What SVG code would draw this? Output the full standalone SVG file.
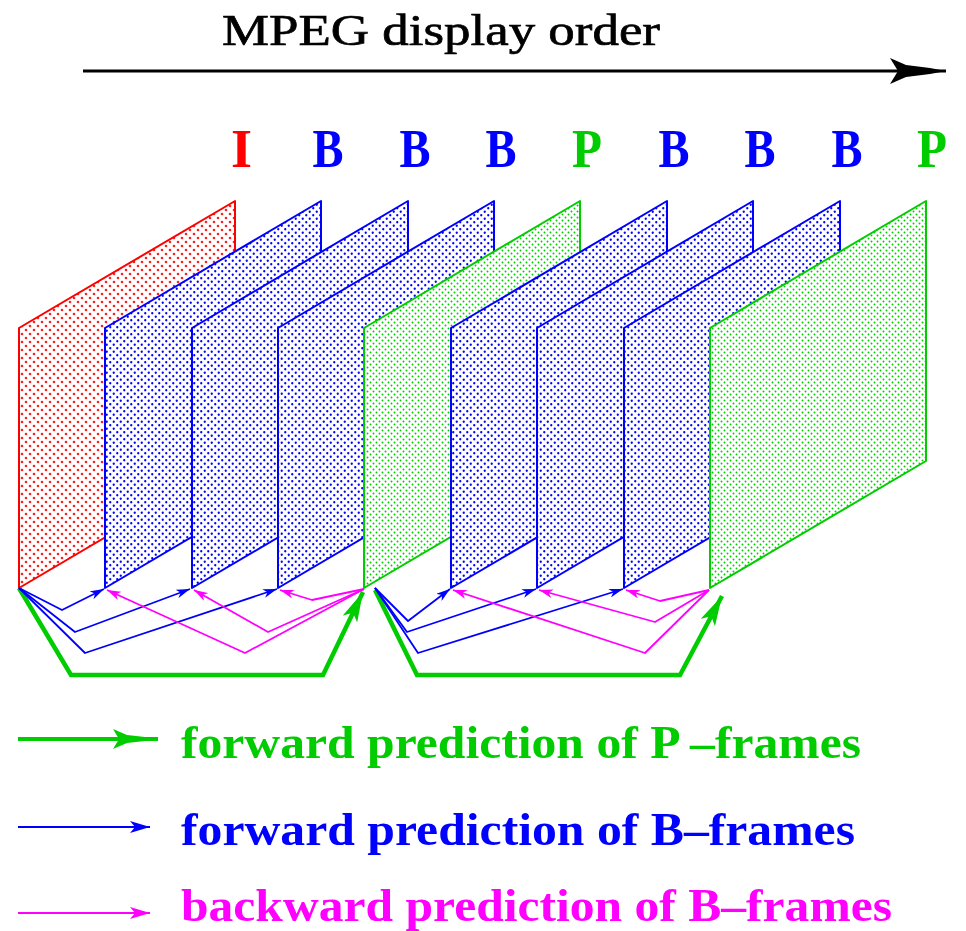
<svg xmlns="http://www.w3.org/2000/svg" width="966" height="931" viewBox="0 0 966 931">
  <style>
    .title { font-family: "Liberation Serif", "Times New Roman", serif; font-size: 45px; fill: #000; stroke: #000; stroke-width: 0.7; }
    .lbl { font-family: "Liberation Serif", "Times New Roman", serif; font-size: 54px; font-weight: bold; text-anchor: middle; }
    .leg { font-family: "Liberation Serif", "Times New Roman", serif; font-size: 47px; font-weight: bold; }
    .red { fill: #ff0000; }
    .blue { fill: #0000ff; }
    .green { fill: #00cc00; }
    .mag { fill: #ff00ff; }
    .frame { stroke-width: 2; stroke-linejoin: round; }
    .f-red { stroke: #ff0000; }
    .f-blue { stroke: #0000ff; }
    .f-green { stroke: #00cc00; }
    .c-blue { fill: none; stroke: #0000ff; stroke-width: 1.8; stroke-linejoin: round; }
    .c-mag { fill: none; stroke: #ff00ff; stroke-width: 1.8; stroke-linejoin: round; }
    .c-green { fill: none; stroke: #00cc00; stroke-width: 4.5; stroke-linejoin: miter; }
  </style>
  <defs>
    <pattern id="dots-red" patternUnits="userSpaceOnUse" width="8" height="8">
      <rect width="8" height="8" fill="#fff"/>
      <circle cx="2" cy="2" r="1.3" fill="#ff2020"/>
      <circle cx="6" cy="6" r="1.3" fill="#ff2020"/>
    </pattern>
    <pattern id="dots-blue" patternUnits="userSpaceOnUse" width="7" height="7">
      <rect width="7" height="7" fill="#fff"/>
      <circle cx="1.75" cy="1.75" r="1.15" fill="#0000ff"/>
      <circle cx="5.25" cy="5.25" r="1.15" fill="#0000ff"/>
    </pattern>
    <pattern id="dots-green" patternUnits="userSpaceOnUse" width="6" height="6">
      <rect width="6" height="6" fill="#fff"/>
      <circle cx="1.5" cy="1.5" r="0.95" fill="#00cc00"/>
      <circle cx="4.5" cy="4.5" r="0.95" fill="#00cc00"/>
    </pattern>
    <marker id="ah-black" markerUnits="userSpaceOnUse" markerWidth="56" markerHeight="26" refX="56" refY="13" orient="auto">
      <path d="M0,0 L16,7 L40,10 L56,13 L40,16 L16,19 L0,26 L8,13 Z" fill="#000"/>
    </marker>
    <marker id="ah-green" markerUnits="userSpaceOnUse" markerWidth="30" markerHeight="16" refX="30" refY="8" orient="auto">
      <path d="M0,0 L30,8 L0,16 L7,8 Z" fill="#00cc00"/>
    </marker>
    <marker id="ah-green-leg" markerUnits="userSpaceOnUse" markerWidth="45" markerHeight="20" refX="45" refY="10" orient="auto">
      <path d="M0,0 L14,6 L32,8 L45,10 L32,12 L14,14 L0,20 L6,10 Z" fill="#00cc00"/>
    </marker>
    <marker id="ah-blue" markerUnits="userSpaceOnUse" markerWidth="14" markerHeight="9" refX="14" refY="4.5" orient="auto">
      <path d="M0,0 L14,4.5 L0,9 L4,4.5 Z" fill="#0000ff"/>
    </marker>
    <marker id="ah-mag" markerUnits="userSpaceOnUse" markerWidth="14" markerHeight="9" refX="14" refY="4.5" orient="auto">
      <path d="M0,0 L14,4.5 L0,9 L4,4.5 Z" fill="#ff00ff"/>
    </marker>
    <marker id="ah-blue-leg" markerUnits="userSpaceOnUse" markerWidth="20" markerHeight="12" refX="20" refY="6" orient="auto">
      <path d="M0,0 L20,6 L0,12 L5,6 Z" fill="#0000ff"/>
    </marker>
    <marker id="ah-mag-leg" markerUnits="userSpaceOnUse" markerWidth="20" markerHeight="12" refX="20" refY="6" orient="auto">
      <path d="M0,0 L20,6 L0,12 L5,6 Z" fill="#ff00ff"/>
    </marker>
  </defs>

  <rect width="966" height="931" fill="#fff"/>

  <!-- heading and time axis -->
  <g id="heading">
    <text class="title" x="222" y="45" textLength="438" lengthAdjust="spacingAndGlyphs">MPEG display order</text>
    <line x1="83" y1="71" x2="946" y2="71" stroke="#000" stroke-width="3" marker-end="url(#ah-black)"/>
  </g>

  <!-- frames, back to front: each is a slanted picture plane -->
  <g id="frame-I">
    <polygon class="frame f-red" fill="url(#dots-red)" points="19,588 19,328 235,201 235,461"/>
    <text class="lbl red" x="241.5" y="167">I</text>
  </g>
  <g id="frame-B1">
    <polygon class="frame f-blue" fill="url(#dots-blue)" points="105,588 105,328 321,201 321,461"/>
    <text class="lbl blue" x="328" y="167" textLength="31" lengthAdjust="spacingAndGlyphs">B</text>
  </g>
  <g id="frame-B2">
    <polygon class="frame f-blue" fill="url(#dots-blue)" points="192,588 192,328 408,201 408,461"/>
    <text class="lbl blue" x="415" y="167" textLength="31" lengthAdjust="spacingAndGlyphs">B</text>
  </g>
  <g id="frame-B3">
    <polygon class="frame f-blue" fill="url(#dots-blue)" points="278,588 278,328 494,201 494,461"/>
    <text class="lbl blue" x="501" y="167" textLength="31" lengthAdjust="spacingAndGlyphs">B</text>
  </g>
  <g id="frame-P1">
    <polygon class="frame f-green" fill="url(#dots-green)" points="364,588 364,328 580,201 580,461"/>
    <text class="lbl green" x="587" y="167" textLength="30" lengthAdjust="spacingAndGlyphs">P</text>
  </g>
  <g id="frame-B4">
    <polygon class="frame f-blue" fill="url(#dots-blue)" points="451,588 451,328 667,201 667,461"/>
    <text class="lbl blue" x="674" y="167" textLength="31" lengthAdjust="spacingAndGlyphs">B</text>
  </g>
  <g id="frame-B5">
    <polygon class="frame f-blue" fill="url(#dots-blue)" points="537,588 537,328 753,201 753,461"/>
    <text class="lbl blue" x="760" y="167" textLength="31" lengthAdjust="spacingAndGlyphs">B</text>
  </g>
  <g id="frame-B6">
    <polygon class="frame f-blue" fill="url(#dots-blue)" points="624,588 624,328 840,201 840,461"/>
    <text class="lbl blue" x="847" y="167" textLength="31" lengthAdjust="spacingAndGlyphs">B</text>
  </g>
  <g id="frame-P2">
    <polygon class="frame f-green" fill="url(#dots-green)" points="710,588 710,328 926,201 926,461"/>
    <text class="lbl green" x="932" y="167" textLength="30" lengthAdjust="spacingAndGlyphs">P</text>
  </g>

  <!-- prediction connectors -->
  <g id="connectors">
    <!-- I -> P1 and following B frames -->
    <polyline class="c-green" points="19,588 71,675 323,675 363,592" marker-end="url(#ah-green)"/>
    <polyline class="c-blue" points="19,588 62,610 104,589" marker-end="url(#ah-blue)"/>
    <polyline class="c-blue" points="19,588 75,632 190,589" marker-end="url(#ah-blue)"/>
    <polyline class="c-blue" points="19,588 85,653 277,589" marker-end="url(#ah-blue)"/>
    <polyline class="c-mag" points="364,589 312,600 280,590" marker-end="url(#ah-mag)"/>
    <polyline class="c-mag" points="364,589 268,632 194,590" marker-end="url(#ah-mag)"/>
    <polyline class="c-mag" points="364,589 245,653 107,590" marker-end="url(#ah-mag)"/>

    <!-- P1 -> P2 and following B frames -->
    <polyline class="c-green" points="375,590 417,675 680,675 722,596" marker-end="url(#ah-green)"/>
    <polyline class="c-blue" points="375,588 408,621 450,589" marker-end="url(#ah-blue)"/>
    <polyline class="c-blue" points="375,588 407,632 536,589" marker-end="url(#ah-blue)"/>
    <polyline class="c-blue" points="375,588 418,653 623,589" marker-end="url(#ah-blue)"/>
    <polyline class="c-mag" points="709,590 660,601 626,590" marker-end="url(#ah-mag)"/>
    <polyline class="c-mag" points="709,590 655,622 539,590" marker-end="url(#ah-mag)"/>
    <polyline class="c-mag" points="709,590 645,653 453,590" marker-end="url(#ah-mag)"/>
  </g>

  <!-- legend -->
  <g id="legend">
    <line x1="18" y1="739" x2="158" y2="739" stroke="#00cc00" stroke-width="4" marker-end="url(#ah-green-leg)"/>
    <text class="leg green" x="181" y="758" textLength="680" lengthAdjust="spacingAndGlyphs">forward prediction of P –frames</text>
    <line x1="18" y1="827" x2="150" y2="827" stroke="#0000ff" stroke-width="2" marker-end="url(#ah-blue-leg)"/>
    <text class="leg blue" x="181" y="845" textLength="674" lengthAdjust="spacingAndGlyphs">forward prediction of B–frames</text>
    <line x1="18" y1="913" x2="150" y2="913" stroke="#ff00ff" stroke-width="2" marker-end="url(#ah-mag-leg)"/>
    <text class="leg mag" x="181" y="921" textLength="711" lengthAdjust="spacingAndGlyphs">backward prediction of B–frames</text>
  </g>
</svg>
